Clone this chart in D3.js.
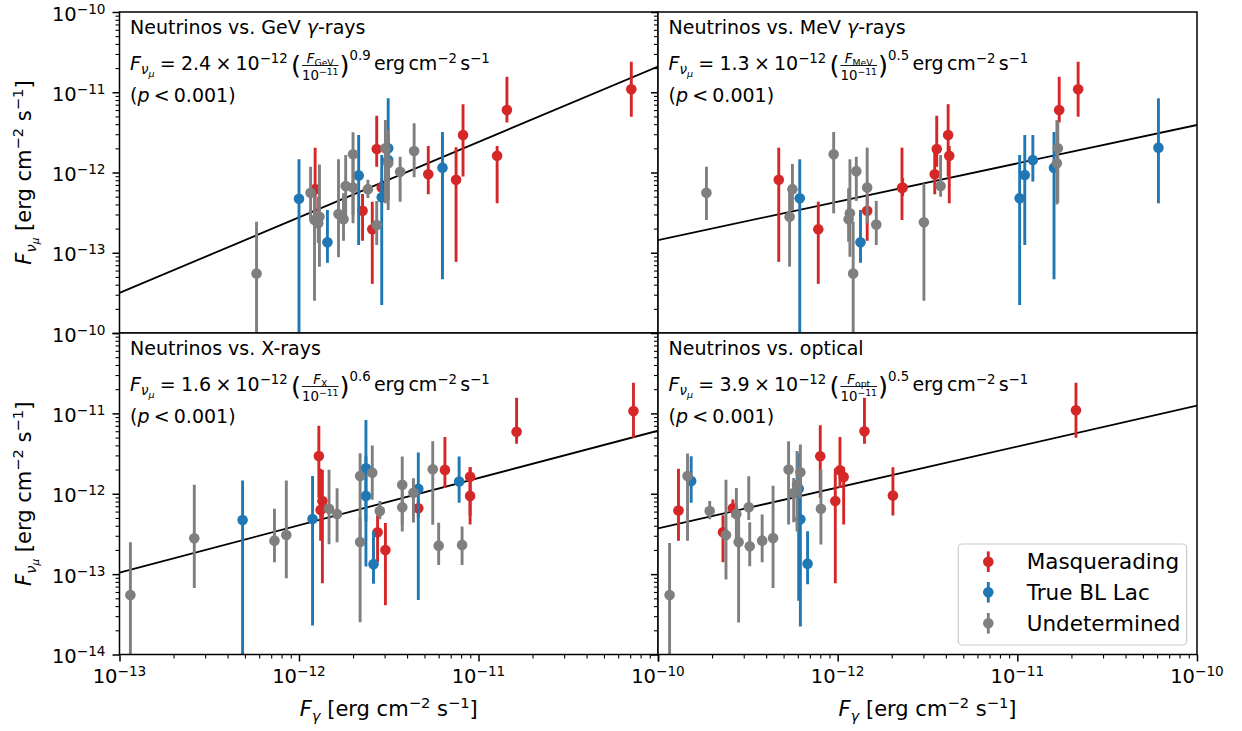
<!DOCTYPE html>
<html><head><meta charset="utf-8">
<script src="https://cdn.jsdelivr.net/npm/d3@7"></script>
<style>body{margin:0;background:#fff} text{font-family:"DejaVu Sans";fill:#000}</style>
</head><body><svg id="c" width="1242" height="731"></svg>
<script>
// ---------- data ----------
const categories = ["Masquerading", "True BL Lac", "Undetermined"];
const classKeys = ["M", "B", "U"];
const classColors = ["#d62728", "#1f77b4", "#7f7f7f"];
const xTickValues = [1e-13, 1e-12, 1e-11, 1e-10];
const yTickValues = [1e-14, 1e-13, 1e-12, 1e-11, 1e-10];
const panelTitles = ["Neutrinos vs. GeV ", "Neutrinos vs. MeV ", "Neutrinos vs. X-rays", "Neutrinos vs. optical"];
const fluxSubscripts = ["GeV", "MeV", "X", "opt"];
const normLabels = ["2.4", "1.3", "1.6", "3.9"];
const indexLabels = ["0.9", "0.5", "0.6", "0.5"];
const fitNorms = [2.4e-12, 1.30e-12, 1.57e-12, 3.86e-12];
const fitIndices = [0.94, 0.478, 0.588, 0.509];

// rows: [F_band, F_nu, F_nu lower, F_nu upper, class]
const gevPoints = [
  [5.8e-13, 5.5e-14, 1e-15, 2.44e-13, "U"],
  [1.0e-12, 4.7e-13, 1e-15, 1.46e-12, "B"],
  [1.16e-12, 5.6e-13, 2.56e-13, 1.18e-12, "U"],
  [1.23e-12, 6.2e-13, 2.6e-13, 2.04e-12, "M"],
  [1.22e-12, 2.56e-13, 2.52e-14, 5.1e-13, "U"],
  [1.30e-12, 2.81e-13, 6.7e-14, 1.26e-12, "U"],
  [1.28e-12, 2.33e-13, 1.32e-13, 4.99e-13, "U"],
  [1.44e-12, 1.35e-13, 7.5e-14, 3.41e-13, "B"],
  [1.66e-12, 3.04e-13, 8.8e-14, 1.46e-12, "U"],
  [1.77e-12, 2.61e-13, 1.41e-13, 5.5e-13, "U"],
  [1.82e-12, 6.8e-13, 2.33e-13, 1.65e-12, "U"],
  [2.0e-12, 1.69e-12, 2.33e-13, 3.17e-12, "U"],
  [2.15e-12, 9.2e-13, 1.25e-13, 2.93e-12, "B"],
  [2.0e-12, 6.5e-13, 2.95e-13, 1.44e-12, "U"],
  [2.26e-12, 3.34e-13, 1.41e-13, 5.4e-13, "M"],
  [2.42e-12, 6.2e-13, 4.8e-13, 8.1e-13, "U"],
  [2.56e-12, 1.96e-13, 4.1e-14, 4.33e-13, "M"],
  [2.71e-12, 2.22e-13, 1.25e-13, 4.43e-13, "U"],
  [2.71e-12, 1.96e-12, 1.18e-12, 5.1e-12, "M"],
  [2.89e-12, 6.5e-13, 5.1e-13, 8.5e-13, "M"],
  [2.89e-12, 4.9e-13, 2.23e-14, 1.65e-12, "B"],
  [3.03e-12, 2.0e-12, 4.13e-13, 4.5e-12, "U"],
  [3.14e-12, 2.0e-12, 4.54e-13, 8.4e-12, "B"],
  [3.14e-12, 1.43e-12, 7.7e-13, 2.93e-12, "B"],
  [3.14e-12, 1.30e-12, 3.41e-13, 3.4e-12, "U"],
  [3.66e-12, 1.02e-12, 4.33e-13, 1.57e-12, "U"],
  [4.38e-12, 1.85e-12, 8.7e-13, 4.1e-12, "U"],
  [5.25e-12, 9.5e-13, 5.35e-13, 2.14e-12, "M"],
  [6.3e-12, 1.15e-12, 4.67e-14, 3.2e-12, "B"],
  [7.5e-12, 8.1e-13, 7.7e-14, 2.06e-12, "M"],
  [8.2e-12, 2.93e-12, 8.9e-13, 7.1e-12, "M"],
  [1.27e-11, 1.62e-12, 4.13e-13, 2.14e-12, "M"],
  [1.44e-11, 6.0e-12, 4.2e-12, 1.56e-11, "M"],
  [7.1e-11, 1.09e-11, 4.96e-12, 2.4e-11, "M"]
];
const mevPoints = [
  [1.86e-13, 5.6e-13, 2.56e-13, 1.18e-12, "U"],
  [4.7e-13, 8.1e-13, 7.7e-14, 2.04e-12, "M"],
  [5.6e-13, 6.2e-13, 3.41e-13, 1.28e-12, "U"],
  [5.4e-13, 2.81e-13, 6.7e-14, 6.05e-13, "U"],
  [6.15e-13, 4.77e-13, 1e-15, 1.46e-12, "B"],
  [7.8e-13, 1.96e-13, 4.1e-14, 4.33e-13, "M"],
  [9.5e-13, 1.69e-12, 3.1e-13, 3.2e-12, "U"],
  [1.17e-12, 3.1e-13, 8.9e-14, 1.46e-12, "U"],
  [1.15e-12, 2.61e-13, 1.37e-13, 6.35e-13, "U"],
  [1.22e-12, 5.5e-14, 1e-15, 2.44e-13, "U"],
  [1.27e-12, 1.04e-12, 4.43e-13, 1.57e-12, "U"],
  [1.34e-12, 1.35e-13, 7.5e-14, 3.41e-13, "B"],
  [1.46e-12, 3.34e-13, 1.41e-13, 5.4e-13, "M"],
  [1.46e-12, 6.5e-13, 2.33e-13, 2.04e-12, "U"],
  [1.64e-12, 2.25e-13, 1.25e-13, 4.43e-13, "U"],
  [2.28e-12, 6.4e-13, 2.56e-13, 2.04e-12, "M"],
  [2.3e-12, 6.5e-13, 5.1e-13, 8.5e-13, "M"],
  [3.02e-12, 2.4e-13, 2.52e-14, 7.3e-13, "U"],
  [3.47e-12, 9.5e-13, 5.35e-13, 2.14e-12, "M"],
  [3.56e-12, 1.96e-12, 1.18e-12, 5.1e-12, "M"],
  [3.74e-12, 6.8e-13, 4.99e-13, 1.65e-12, "U"],
  [4.12e-12, 2.93e-12, 8.9e-13, 7.1e-12, "M"],
  [4.18e-12, 1.62e-12, 4.13e-13, 2.14e-12, "M"],
  [1.03e-11, 4.77e-13, 2.23e-14, 1.65e-12, "B"],
  [1.10e-11, 9.3e-13, 1.25e-13, 2.93e-12, "B"],
  [1.22e-11, 1.43e-12, 7.7e-13, 2.93e-12, "B"],
  [1.60e-11, 1.15e-12, 4.67e-14, 3.2e-12, "B"],
  [1.66e-11, 1.30e-12, 4.0e-13, 4.5e-12, "U"],
  [1.68e-11, 2.0e-12, 4.2e-13, 4.3e-12, "U"],
  [1.71e-11, 6.0e-12, 4.2e-12, 1.56e-11, "M"],
  [2.18e-11, 1.09e-11, 4.96e-12, 2.4e-11, "M"],
  [6.1e-11, 2.04e-12, 4.13e-13, 8.4e-12, "B"]
];
const xrayPoints = [
  [1.15e-13, 5.5e-14, 1e-15, 2.49e-13, "U"],
  [2.61e-13, 2.8e-13, 6.7e-14, 1.29e-12, "U"],
  [4.85e-13, 4.72e-13, 1e-15, 1.46e-12, "B"],
  [7.3e-13, 2.61e-13, 1.41e-13, 6.5e-13, "U"],
  [8.5e-13, 3.07e-13, 8.9e-14, 1.46e-12, "U"],
  [1.19e-12, 4.86e-13, 2.29e-14, 1.66e-12, "B"],
  [1.29e-12, 2.95e-12, 8.9e-13, 7.0e-12, "M"],
  [1.32e-12, 6.3e-13, 2.6e-13, 2.04e-12, "M"],
  [1.35e-12, 8.1e-13, 7.7e-14, 1.98e-12, "M"],
  [1.47e-12, 6.5e-13, 2.36e-13, 1.99e-12, "U"],
  [1.63e-12, 5.6e-13, 2.5e-13, 1.17e-12, "U"],
  [2.19e-12, 1.66e-12, 2.33e-13, 3.19e-12, "U"],
  [2.19e-12, 2.51e-13, 2.52e-14, 5.1e-13, "U"],
  [2.36e-12, 2.07e-12, 4.5e-13, 8.3e-12, "B"],
  [2.36e-12, 9.4e-13, 1.24e-13, 2.93e-12, "B"],
  [2.56e-12, 1.83e-12, 8.4e-13, 3.97e-12, "U"],
  [2.6e-12, 1.33e-13, 7.6e-14, 3.38e-13, "B"],
  [2.82e-12, 6.1e-13, 4.8e-13, 8.1e-13, "U"],
  [2.74e-12, 3.32e-13, 1.41e-13, 5.4e-13, "M"],
  [3.03e-12, 2.0e-13, 4.1e-14, 4.33e-13, "M"],
  [3.76e-12, 1.29e-12, 3.4e-13, 2.9e-12, "U"],
  [3.76e-12, 6.8e-13, 4.1e-13, 1.49e-12, "U"],
  [4.34e-12, 1.03e-12, 4.4e-13, 1.56e-12, "U"],
  [4.62e-12, 1.15e-12, 4.78e-14, 3.25e-12, "B"],
  [4.62e-12, 6.6e-13, 5.1e-13, 8.5e-13, "M"],
  [5.56e-12, 2.02e-12, 4.1e-13, 4.5e-12, "U"],
  [6.0e-12, 2.26e-13, 1.3e-13, 4.37e-13, "U"],
  [6.5e-12, 1.98e-12, 1.18e-12, 5.1e-12, "M"],
  [7.8e-12, 1.42e-12, 7.7e-13, 2.9e-12, "B"],
  [8.1e-12, 2.31e-13, 1.3e-13, 3.9e-13, "U"],
  [8.98e-12, 1.63e-12, 4.13e-13, 2.14e-12, "M"],
  [8.98e-12, 9.4e-13, 5.35e-13, 2.14e-12, "M"],
  [1.63e-11, 5.9e-12, 4.2e-12, 1.56e-11, "M"],
  [7.3e-11, 1.07e-11, 4.96e-12, 2.4e-11, "M"]
];
const opticalPoints = [
  [1.16e-13, 5.5e-14, 1e-15, 2.44e-13, "U"],
  [1.30e-13, 6.2e-13, 2.6e-13, 2.04e-12, "M"],
  [1.46e-13, 1.66e-12, 2.6e-13, 3.17e-12, "U"],
  [1.53e-13, 1.44e-12, 7.7e-13, 2.93e-12, "B"],
  [1.94e-13, 6.1e-13, 4.8e-13, 8.1e-13, "U"],
  [2.30e-13, 3.32e-13, 1.41e-13, 5.4e-13, "M"],
  [2.39e-13, 3.07e-13, 8.6e-14, 1.49e-12, "U"],
  [2.61e-13, 6.6e-13, 5.1e-13, 8.5e-13, "M"],
  [2.73e-13, 5.6e-13, 2.56e-13, 1.18e-12, "U"],
  [2.81e-13, 2.51e-13, 2.5e-14, 5.1e-13, "U"],
  [3.2e-13, 6.8e-13, 4.7e-13, 1.65e-12, "U"],
  [3.24e-13, 2.22e-13, 1.25e-13, 4.43e-13, "U"],
  [3.8e-13, 2.61e-13, 1.41e-13, 5.5e-13, "U"],
  [4.37e-13, 2.81e-13, 6.7e-14, 1.26e-12, "U"],
  [5.33e-13, 2.0e-12, 4.13e-13, 4.5e-12, "U"],
  [5.69e-13, 1.02e-12, 4.43e-13, 1.57e-12, "U"],
  [5.94e-13, 1.29e-12, 3.4e-13, 3.4e-12, "U"],
  [6.07e-13, 1.15e-12, 4.67e-14, 3.2e-12, "B"],
  [6.2e-13, 1.85e-12, 8.7e-13, 4.1e-12, "U"],
  [6.2e-13, 4.8e-13, 2.23e-14, 1.65e-12, "B"],
  [6.8e-13, 1.35e-13, 7.5e-14, 3.41e-13, "B"],
  [8.07e-13, 6.5e-13, 2.33e-13, 1.99e-12, "U"],
  [8.0e-13, 2.93e-12, 8.9e-13, 7.1e-12, "M"],
  [9.7e-13, 8.1e-13, 7.7e-14, 2.06e-12, "M"],
  [1.03e-12, 1.96e-12, 1.18e-12, 5.1e-12, "M"],
  [1.08e-12, 1.62e-12, 4.13e-13, 2.14e-12, "M"],
  [1.41e-12, 6.0e-12, 4.2e-12, 1.56e-11, "M"],
  [2.03e-12, 9.5e-13, 5.35e-13, 2.14e-12, "M"],
  [2.12e-11, 1.09e-11, 4.96e-12, 2.4e-11, "M"]
];
const panelPoints = [gevPoints, mevPoints, xrayPoints, opticalPoints];

// ---------- layout ----------
const colEdges = [119.5, 658, 1197];
const rowEdges = [12, 333, 654.5];
const FS_TICK = 19.5, FS_TXT = 19, FS_LAB = 21, FS_LEG = 21.5;
const svg = d3.select("#c");

function runText(g, x, y, items, base) {
  let cx = x;
  items.forEach(it => {
    if (it.gap !== undefined) { cx += it.gap * base; return; }
    if (it.frac) {
      const gn = g.append("g"), gd = g.append("g");
      const wn = runText(gn, 0, 0, it.num, base);
      const wd = runText(gd, 0, 0, it.den, base);
      const w = Math.max(wn, wd) + 2 * it.pad;
      gn.attr("transform", `translate(${cx + (w - wn) / 2},${y + it.ny})`);
      gd.attr("transform", `translate(${cx + (w - wd) / 2},${y + it.dny})`);
      g.append("line").attr("x1", cx + 1).attr("x2", cx + w - 1)
        .attr("y1", y + it.by).attr("y2", y + it.by)
        .attr("stroke", "#000").attr("stroke-width", 0.9);
      cx += w; return;
    }
    const t = g.append("text").attr("x", cx).attr("y", y + (it.dy || 0))
      .attr("font-size", base * (it.s || 1))
      .attr("font-style", it.it ? "italic" : null).text(it.t);
    cx += t.node().getComputedTextLength();
  });
  return cx;
}
const sup = t => ({ t: t, s: 0.7, dy: -7.5 });
const unitItems = [{ t: "erg" }, { gap: 0.17 }, { t: "cm" }, sup("−2"), { gap: 0.17 }, { t: "s" }, sup("−1")];

function formulaItems(i) {
  return [
    { t: "F", it: 1 }, { t: "ν", it: 1, s: 0.7, dy: 4 }, { t: "μ", it: 1, s: 0.5, dy: 7 },
    { gap: 0.28 }, { t: "=" }, { gap: 0.28 }, { t: normLabels[i] }, { gap: 0.22 }, { t: "×" }, { gap: 0.22 },
    { t: "10" }, sup("−12"), { gap: 0.17 },
    { t: "(", s: 1.35, dy: 4 },
    { frac: true, pad: 1, ny: -7, dny: 10, by: -4.5,
      num: [{ t: "F", it: 1, s: 0.7 }, { t: fluxSubscripts[i], s: 0.49, dy: 2.5 }],
      den: [{ t: "10", s: 0.7 }, { t: "−11", s: 0.49, dy: -5 }] },
    { t: ")", s: 1.35, dy: 4 },
    { t: indexLabels[i], s: 0.7, dy: -10 }, { gap: 0.17 }
  ].concat(unitItems);
}
const pValueItems = [{ t: "(" }, { t: "p", it: 1 }, { gap: 0.22 }, { t: "<" }, { gap: 0.22 }, { t: "0.001)" }];

function tickLabel(g, x, y, v, anchor) {
  const e = Math.round(Math.log10(v));
  const t = g.append("text").attr("x", x).attr("y", y).attr("text-anchor", anchor).attr("font-size", FS_TICK);
  t.append("tspan").text("10");
  t.append("tspan").attr("font-size", FS_TICK * 0.7).attr("dy", -7).text("−" + Math.abs(e));
}

const minorVals = [];
for (let e = -15; e <= -10; e++) for (let m = 2; m <= 9; m++) minorVals.push(m * Math.pow(10, e));

for (let p = 0; p < 4; p++) {
  const r = Math.floor(p / 2), c = p % 2;
  const x0 = colEdges[c], x1 = colEdges[c + 1], y0 = rowEdges[r], y1 = rowEdges[r + 1];
  const x = d3.scaleLog().domain([xTickValues[0], xTickValues[3]]).range([x0, x1]);
  const y = d3.scaleLog().domain([yTickValues[0], yTickValues[4]]).range([y1, y0]);
  const g = svg.append("g");
  g.append("rect").attr("x", x0).attr("y", y0).attr("width", x1 - x0).attr("height", y1 - y0).attr("fill", "#fff");
  const cid = "clip" + p;
  g.append("clipPath").attr("id", cid).append("rect").attr("x", x0).attr("y", y0).attr("width", x1 - x0).attr("height", y1 - y0);
  const plot = g.append("g").attr("clip-path", `url(#${cid})`);

  // fit line
  const fx = [xTickValues[0], xTickValues[3]];
  plot.append("path").datum(fx)
    .attr("d", d3.line().x(d => x(d)).y(d => y(fitNorms[p] * Math.pow(d / 1e-11, fitIndices[p]))))
    .attr("stroke", "#000").attr("stroke-width", 1.8).attr("fill", "none");

  // error bars + markers, drawn class by class
  classKeys.forEach((k, ci) => {
    const pts = panelPoints[p].filter(d => d[4] === k);
    const col = classColors[ci];
    plot.selectAll(null).data(pts).enter().append("line")
      .attr("x1", d => x(d[0])).attr("x2", d => x(d[0]))
      .attr("y1", d => y(Math.max(d[2], 1e-16))).attr("y2", d => y(d[3]))
      .attr("stroke", col).attr("stroke-width", 2.9);
    plot.selectAll(null).data(pts).enter().append("circle")
      .attr("cx", d => x(d[0])).attr("cy", d => y(d[1])).attr("r", 5.3).attr("fill", col);
  });

  // y axis ticks
  const ay = g.append("g").attr("transform", `translate(${x0},0)`);
  ay.append("g").call(d3.axisLeft(y).tickValues(minorVals.filter(v => v >= 1e-14 && v <= 1e-10)).tickSize(4).tickFormat(""))
    .call(s => { s.select(".domain").remove(); s.selectAll("line").attr("stroke-width", 1.1); });
  ay.append("g").call(d3.axisLeft(y).tickValues(yTickValues).tickSize(7).tickFormat(""))
    .call(s => { s.select(".domain").remove(); s.selectAll("line").attr("stroke-width", 1.5); });
  if (c === 0) {
    yTickValues.forEach(v => { if (r === 0 && v === 1e-14) return; tickLabel(g, x0 - 14, y(v) + 8.5, v, "end"); });
  }
  // x axis ticks (bottom row)
  if (r === 1) {
    const ax = g.append("g").attr("transform", `translate(0,${y1})`);
    ax.append("g").call(d3.axisBottom(x).tickValues(minorVals.filter(v => v >= 1e-13 && v <= 1e-10)).tickSize(4).tickFormat(""))
      .call(s => { s.select(".domain").remove(); s.selectAll("line").attr("stroke-width", 1.1); });
    ax.append("g").call(d3.axisBottom(x).tickValues(xTickValues).tickSize(7).tickFormat(""))
      .call(s => { s.select(".domain").remove(); s.selectAll("line").attr("stroke-width", 1.5); });
    xTickValues.forEach(v => { if (c === 1 && v === 1e-13) return; tickLabel(g, x(v), y1 + 28.5, v, "middle"); });
  }
  // frame
  g.append("rect").attr("x", x0).attr("y", y0).attr("width", x1 - x0).attr("height", y1 - y0)
    .attr("fill", "none").attr("stroke", "#000").attr("stroke-width", 1.5);

  // panel texts
  const tx = x0 + 10.5;
  const tt = g.append("text").attr("x", tx).attr("y", y0 + 21.5).attr("font-size", FS_TXT);
  tt.append("tspan").text(panelTitles[p]);
  if (p < 2) { tt.append("tspan").attr("font-style", "italic").text("γ"); tt.append("tspan").text("-rays"); }
  runText(g, tx, y0 + 58, formulaItems(p), FS_TXT);
  runText(g, tx, y0 + 89.5, pValueItems, FS_TXT);
}

// axis labels
function labelItems(sym) {
  const head = sym === "nu"
    ? [{ t: "F", it: 1 }, { t: "ν", it: 1, s: 0.7, dy: 4.5 }, { t: "μ", it: 1, s: 0.5, dy: 7.5 }]
    : [{ t: "F", it: 1 }, { t: "γ", it: 1, s: 0.7, dy: 4.5 }];
  return head.concat([{ gap: 0.32 }, { t: "[erg" }, { gap: 0.32 }, { t: "cm" }, { t: "−2", s: 0.7, dy: -8 },
    { gap: 0.32 }, { t: "s" }, { t: "−1", s: 0.7, dy: -8 }, { t: "]" }]);
}
function centeredLabel(cx, cy, rot, items) {
  const g = svg.append("g").attr("transform", `translate(${cx},${cy}) rotate(${rot})`);
  const inner = g.append("g");
  const w = runText(inner, 0, 0, items, FS_LAB);
  inner.attr("transform", `translate(${-w / 2},0)`);
}
for (let r = 0; r < 2; r++) centeredLabel(31, (rowEdges[r] + rowEdges[r + 1]) / 2, -90, labelItems("nu"));
for (let c = 0; c < 2; c++) centeredLabel((colEdges[c] + colEdges[c + 1]) / 2, 716, 0, labelItems("g"));

// legend
const lg = svg.append("g");
lg.append("rect").attr("x", 958.3).attr("y", 544).attr("width", 228.4).attr("height", 101).attr("rx", 4)
  .attr("fill", "#fff").attr("fill-opacity", 0.8).attr("stroke", "#cccccc").attr("stroke-width", 1.2);
const legRows = [561.7, 592.3, 623.3];
categories.forEach((name, i) => {
  lg.append("line").attr("x1", 988.3).attr("x2", 988.3).attr("y1", legRows[i] - 10.3).attr("y2", legRows[i] + 10.3)
    .attr("stroke", classColors[i]).attr("stroke-width", 2.9);
  lg.append("circle").attr("cx", 988.3).attr("cy", legRows[i]).attr("r", 5.3).attr("fill", classColors[i]);
  lg.append("text").attr("x", 1026.7).attr("y", legRows[i] + 7.7).attr("font-size", FS_LEG).text(name);
});
</script></body></html>
